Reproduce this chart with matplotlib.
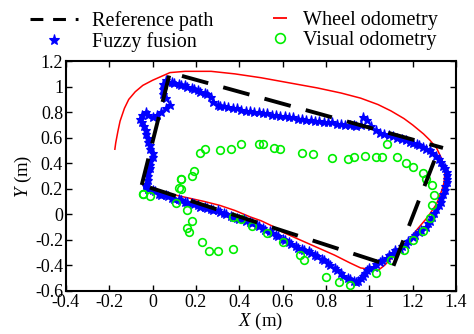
import numpy as np
import matplotlib
matplotlib.use('Agg')
import matplotlib.pyplot as plt
from matplotlib.lines import Line2D
from matplotlib.ticker import FuncFormatter

plt.rcParams['font.family'] = ['Liberation Serif', 'DejaVu Serif']
plt.rcParams['mathtext.fontset'] = 'custom'
plt.rcParams['mathtext.rm'] = 'Liberation Serif'
plt.rcParams['mathtext.it'] = 'Liberation Serif:italic'
plt.rcParams['axes.unicode_minus'] = False

# reference path (two dashed pieces)
ref_x = [1.30, 1.11, -0.05, 0.08, 1.34]
ref_y = [0.42, -0.41, 0.23, 1.11, 0.52]

# wheel odometry
wheel_x = [-0.045, 0.0, 0.08, 0.16, 0.24, 0.31, 0.38, 0.45, 0.50, 0.55, 0.60, 0.68, 0.76, 0.84,
           0.91, 0.96, 1.00, 1.04, 1.07, 1.11, 1.17, 1.22, 1.27, 1.31, 1.335, 1.345, 1.35, 1.33,
           1.31, 1.28, 1.25, 1.20, 1.16, 1.10, 1.04, 0.96, 0.87, 0.76, 0.63, 0.50, 0.38, 0.27,
           0.15, 0.08, 0.04, 0.0, -0.045, -0.08, -0.11, -0.13, -0.15, -0.16, -0.17, -0.174]
wheel_y = [0.23, 0.20, 0.16, 0.13, 0.10, 0.07, 0.03, -0.02, -0.05, -0.09, -0.14, -0.20, -0.26, -0.32,
           -0.38, -0.42, -0.43, -0.44, -0.40, -0.33, -0.23, -0.12, -0.02, 0.08, 0.19, 0.25, 0.35, 0.45,
           0.52, 0.58, 0.63, 0.70, 0.75, 0.81, 0.86, 0.91, 0.95, 0.99, 1.03, 1.07, 1.10, 1.12,
           1.12, 1.11, 1.08, 1.05, 1.01, 0.96, 0.90, 0.83, 0.73, 0.65, 0.56, 0.51]

# fuzzy fusion
fuzzy_x = [-0.03, -0.03, -0.02, 0.00, 0.01, 0.03, 0.04, 0.06, 0.07, 0.09, 0.10, 0.12, 0.13, 0.15,
           0.16, 0.18, 0.19, 0.21, 0.22, 0.24, 0.25, 0.27, 0.28, 0.30, 0.31, 0.33, 0.34, 0.36,
           0.37, 0.39, 0.40, 0.42, 0.43, 0.45, 0.46, 0.48, 0.49, 0.51, 0.52, 0.54, 0.55, 0.57,
           0.58, 0.60, 0.61, 0.63, 0.64, 0.66, 0.67, 0.69, 0.70, 0.72, 0.73, 0.75, 0.76, 0.78,
           0.79, 0.81, 0.82, 0.84, 0.85, 0.87, 0.88, 0.90, 0.91, 0.93, 0.94, 0.95, 0.96, 0.97,
           0.98, 0.99, 1.00, 1.02, 1.03, 1.05, 1.06, 1.08, 1.09, 1.11, 1.12, 1.14, 1.15, 1.17,
           1.18, 1.20, 1.21, 1.23, 1.24, 1.26, 1.27, 1.28, 1.29, 1.30, 1.31, 1.32, 1.33, 1.33,
           1.34, 1.35, 1.35, 1.36, 1.36, 1.36, 1.36, 1.35, 1.34, 1.33, 1.32, 1.31, 1.29, 1.28,
           1.26, 1.25, 1.23, 1.22, 1.20, 1.19, 1.17, 1.15, 1.13, 1.11, 1.09, 1.07, 1.05, 1.03,
           1.01, 0.99, 0.97, 0.96, 0.94, 0.93, 0.91, 0.89, 0.87, 0.85, 0.83, 0.81, 0.79, 0.77,
           0.75, 0.73, 0.71, 0.69, 0.67, 0.65, 0.63, 0.61, 0.59, 0.57, 0.55, 0.53, 0.51, 0.49,
           0.47, 0.45, 0.43, 0.41, 0.39, 0.37, 0.35, 0.33, 0.31, 0.30, 0.28, 0.27, 0.25, 0.24,
           0.22, 0.21, 0.19, 0.18, 0.16, 0.15, 0.13, 0.12, 0.10, 0.09, 0.07, 0.06, 0.05, 0.05,
           0.05, 0.06, 0.08, 0.06, 0.04, 0.02, 0.00, -0.02, -0.03, -0.05, -0.06, -0.05, -0.04,
           -0.03, -0.03, -0.02, -0.02, -0.01, -0.01, 0.00, 0.00, -0.01, -0.01, -0.01, -0.02,
           -0.02, -0.02, -0.03]
fuzzy_y = [0.24, 0.22, 0.20, 0.19, 0.18, 0.16, 0.15, 0.15, 0.14, 0.13, 0.12, 0.12, 0.11, 0.10,
           0.10, 0.09, 0.08, 0.07, 0.06, 0.06, 0.05, 0.04, 0.03, 0.03, 0.02, 0.01, 0.00, -0.01,
           -0.02, -0.03, -0.04, -0.04, -0.05, -0.06, -0.07, -0.08, -0.09, -0.11, -0.12, -0.13, -0.15, -0.16,
           -0.17, -0.19, -0.20, -0.22, -0.23, -0.25, -0.26, -0.27, -0.28, -0.29, -0.30, -0.32, -0.33, -0.35,
           -0.36, -0.38, -0.40, -0.42, -0.44, -0.46, -0.48, -0.50, -0.51, -0.52, -0.53, -0.52, -0.50, -0.48,
           -0.46, -0.44, -0.42, -0.41, -0.39, -0.37, -0.36, -0.34, -0.32, -0.30, -0.28, -0.27, -0.25, -0.23,
           -0.21, -0.18, -0.16, -0.14, -0.12, -0.10, -0.07, -0.05, -0.02, 0.01, 0.04, 0.07, 0.10, 0.13,
           0.16, 0.19, 0.22, 0.25, 0.28, 0.31, 0.33, 0.36, 0.38, 0.41, 0.43, 0.46, 0.48, 0.50,
           0.51, 0.53, 0.54, 0.55, 0.56, 0.57, 0.58, 0.59, 0.60, 0.61, 0.62, 0.63, 0.64, 0.66,
           0.69, 0.74, 0.76, 0.70, 0.69, 0.70, 0.70, 0.70, 0.71, 0.71, 0.72, 0.72, 0.72, 0.73,
           0.73, 0.74, 0.74, 0.75, 0.75, 0.76, 0.76, 0.77, 0.77, 0.78, 0.78, 0.79, 0.79, 0.80,
           0.80, 0.81, 0.81, 0.82, 0.83, 0.83, 0.84, 0.85, 0.85, 0.86, 0.88, 0.92, 0.94, 0.95,
           0.96, 0.97, 0.98, 0.99, 1.00, 1.01, 1.01, 1.02, 1.03, 1.04, 1.04, 1.05, 1.02, 0.98,
           0.94, 0.91, 0.86, 0.83, 0.80, 0.78, 0.76, 0.78, 0.80, 0.78, 0.75, 0.72, 0.69,
           0.66, 0.63, 0.60, 0.57, 0.54, 0.51, 0.48, 0.45, 0.42, 0.39, 0.36, 0.33,
           0.30, 0.27, 0.24]

# visual odometry
vis_x = [-0.045, -0.01, 0.11, 0.12, 0.13, 0.16, 0.18, 0.16, 0.17, 0.23, 0.26, 0.30, 0.37,
         0.37, 0.41, 0.46, 0.53, 0.60, 0.68, 0.70, 0.80, 0.86, 0.91, 1.03, 1.10, 1.16,
         1.20, 1.25, 1.28, 1.29, 1.30, 1.29, 1.26, 1.25, 1.20, 1.17, 1.13, 1.08, 1.06,
         1.03, 0.98, 0.93, 0.90, 0.83, 0.74, 0.69, 0.59, 0.56, 0.51, 0.49, 0.41, 0.36,
         0.31, 0.24, 0.22, 0.13, 0.13, 0.18, 0.19, -0.045]
vis_y = [0.16, 0.14, 0.09, 0.21, 0.28, 0.03, -0.05, -0.11, -0.14, -0.22, -0.29, -0.29, -0.27,
         -0.02, -0.04, -0.09, -0.15, -0.22, -0.32, -0.36, -0.49, -0.53, -0.55, -0.46, -0.36, -0.28,
         -0.20, -0.13, -0.03, 0.07, 0.15, 0.23, 0.28, 0.32, 0.37, 0.40, 0.45, 0.55, 0.45,
         0.45, 0.46, 0.45, 0.43, 0.44, 0.47, 0.48, 0.51, 0.52, 0.55, 0.55, 0.55, 0.51,
         0.50, 0.51, 0.48, 0.28, 0.20, 0.30, 0.34, 0.16]

xticks = [-0.4, -0.2, 0, 0.2, 0.4, 0.6, 0.8, 1, 1.2, 1.4]
yticks = [-0.6, -0.4, -0.2, 0, 0.2, 0.4, 0.6, 0.8, 1, 1.2]

fig = plt.figure(figsize=(4.74, 3.34), dpi=100)
ax = fig.add_axes([0.139, 0.129, 0.823, 0.688])

ax.plot(ref_x[:3], ref_y[:3], '-', color='black', lw=2.8, dashes=(7, 4), zorder=5)
ax.plot(ref_x[2:], ref_y[2:], '-', color='black', lw=2.8, dashes=(7, 4), zorder=5)
ax.plot(fuzzy_x, fuzzy_y, '-*', color='blue', lw=1, ms=6.5, mew=0.8, zorder=3)
ax.plot(wheel_x, wheel_y, '-', color='red', lw=1.1, zorder=2)
ax.plot(vis_x, vis_y, 'o', mfc='none', mec='#00ee00', mew=1.2, ms=5.5, zorder=4)

ax.set_xlim(-0.4, 1.4)
ax.set_ylim(-0.6, 1.2)
ax.set_xticks(xticks)
ax.set_yticks(yticks)
fmt = FuncFormatter(lambda v, p: '%g' % round(v, 2))
ax.xaxis.set_major_formatter(fmt)
ax.yaxis.set_major_formatter(fmt)
ax.tick_params(direction='in', top=True, right=True, labelsize=13, length=4, width=1, pad=2)
for s in ax.spines.values():
    s.set_linewidth(1.5)

ax.set_xlabel(r'$\mathit{X}$ (m)', fontsize=13.5, labelpad=0)
ax.set_ylabel(r'$\mathit{Y}$ (m)', fontsize=13.5, labelpad=1)

# legend, two separate columns
h_ref = Line2D([], [], color='black', lw=2.2, dashes=(4.2, 3.2))
h_fuz = Line2D([], [], color='blue', marker='*', ls='none', ms=8, mew=0.8)
h_whl = Line2D([], [], color='red', marker='_', ls='none', ms=10, mew=1.3)
h_vis = Line2D([], [], color='#00ee00', marker='o', mfc='none', ls='none', ms=7, mew=1.2)

leg1 = fig.legend([h_ref, h_fuz], ['Reference path', 'Fuzzy fusion'], loc='upper left',
                  bbox_to_anchor=(30 / 474, 1 - 11 / 334), frameon=False, fontsize=14.5,
                  handlelength=2.4, handletextpad=0.7, labelspacing=0.05, borderpad=0,
                  borderaxespad=0, numpoints=1)
leg2 = fig.legend([h_whl, h_vis], ['Wheel odometry', 'Visual odometry'], loc='upper left',
                  bbox_to_anchor=(270 / 474, 1 - 11 / 334), frameon=False, fontsize=14.5,
                  handlelength=1.0, handletextpad=0.65, labelspacing=0.05, borderpad=0,
                  borderaxespad=0, numpoints=1)

fig.savefig('out.png', dpi=100)
